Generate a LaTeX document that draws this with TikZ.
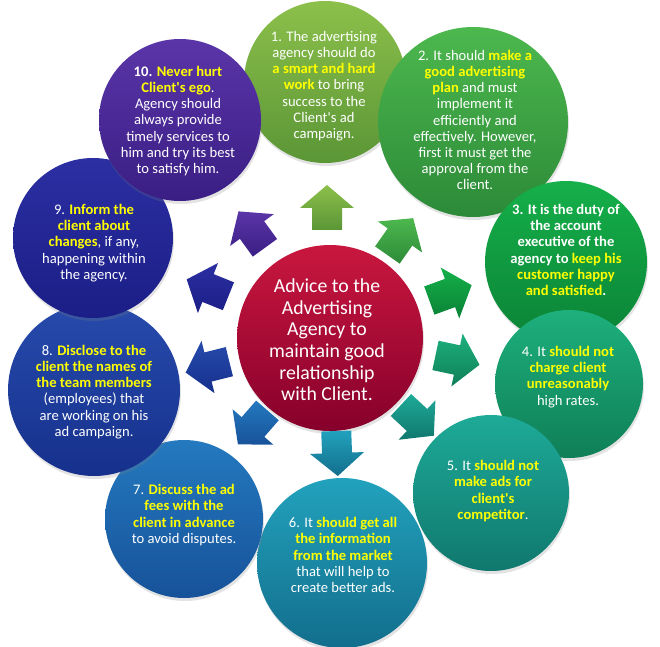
\documentclass[tikz,border=0pt]{standalone}
\usepackage{fontspec}
\setmainfont{Carlito}
\usetikzlibrary{shadows}
\definecolor{hly}{HTML}{FFFF00}
\definecolor{c0t}{HTML}{C9173F}\definecolor{c0b}{HTML}{86002B}
\definecolor{c1t}{HTML}{8CC04B}\definecolor{c1b}{HTML}{5B9636}
\definecolor{c2t}{HTML}{4DB84E}\definecolor{c2b}{HTML}{2C8A38}
\definecolor{c3t}{HTML}{15B04A}\definecolor{c3b}{HTML}{0B8236}
\definecolor{c4t}{HTML}{1DB07C}\definecolor{c4b}{HTML}{0F7F58}
\definecolor{c5t}{HTML}{1EAA98}\definecolor{c5b}{HTML}{10786E}
\definecolor{c6t}{HTML}{22A2BD}\definecolor{c6b}{HTML}{126E8C}
\definecolor{c7t}{HTML}{2479BF}\definecolor{c7b}{HTML}{17529A}
\definecolor{c8t}{HTML}{274BAC}\definecolor{c8b}{HTML}{16308C}
\definecolor{c9t}{HTML}{2B2FA2}\definecolor{c9b}{HTML}{1B1E86}
\definecolor{c10t}{HTML}{5A35A8}\definecolor{c10b}{HTML}{3A1E84}
\newcommand\hl[1]{\textbf{\color{hly}#1}}
\newcommand\blockarrow[4]{\path[top color=#3, bottom color=#4, shift={(#1)}, rotate=#2]
  (-22,-15) -- (0,-15) -- (0,-27) -- (23,0) -- (0,27) -- (0,15) -- (-22,15) -- cycle;}
\begin{document}
\begin{tikzpicture}[x=1pt,y=1pt,
  bub/.style n args={3}{circle, inner sep=0pt, minimum size=#1, top color=#2, bottom color=#3,
    draw=none, drop shadow={opacity=0.22, shadow xshift=1pt, shadow yshift=-3pt}},
  txt/.style={text=white, align=center, inner sep=0pt, font=\fontsize{14.6}{16.2}\selectfont},
  ctxt/.style={text=white, align=center, inner sep=0pt, font=\fontsize{19.8}{21.6}\selectfont}]
\useasboundingbox (0,0) rectangle (660,646);
% outer circles
\node[bub={162}{c1t}{c1b}] (c1) at (325,564) {};
\node[bub={190}{c2t}{c2b}] (c2) at (473,524) {};
\node[bub={162}{c3t}{c3b}] (c3) at (566,384) {};
\node[bub={148}{c4t}{c4b}] (c4) at (569,262) {};
\node[bub={156}{c5t}{c5b}] (c5) at (491,153) {};
\node[bub={170}{c6t}{c6b}] (c6) at (342,83) {};
\node[bub={158}{c7t}{c7b}] (c7) at (184,127) {};
\node[bub={172}{c8t}{c8b}] (c8) at (94,256) {};
\node[bub={160}{c9t}{c9b}] (c9) at (93,408) {};
\node[bub={162}{c10t}{c10b}] (c10) at (180,526) {};
% centre
\node[bub={186}{c0t}{c0b}] (c0) at (330,308) {};
% arrows
\blockarrow{327,438}{90}{c1t}{c1b}
\blockarrow{400,409}{55}{c2t}{c2b}
\blockarrow{450,353}{20}{c3t}{c3b}
\blockarrow{457,286}{-12}{c4t}{c4b}
\blockarrow{417,226}{-43}{c5t}{c5b}
\blockarrow{337,193}{-88}{c6t}{c6b}
\blockarrow{253,219}{-131}{c7t}{c7b}
\blockarrow{208,279}{-166}{c8t}{c8b}
\blockarrow{208,358}{158}{c9t}{c9b}
\blockarrow{252,416}{126}{c10t}{c10b}
% texts
\node[ctxt] (t0) at (327,306) {Advice to the\\Advertising\\Agency to\\maintain good\\relationship\\with Client.};
\node[txt] (t1) at (324,560) {1. The advertising\\agency should do\\\hl{a smart and hard}\\\hl{work} to bring\\success to the\\Client\textquotesingle s ad\\campaign.};
\node[txt] (t2) at (475,526) {2. It should \hl{make a}\\\hl{good advertising}\\\hl{plan} and must\\implement it\\efficiently and\\effectively. However,\\first it must get the\\approval from the\\client.};
\node[txt, font=\fontsize{14.6}{16.2}\selectfont\bfseries] (t3) at (566,396) {3. It is the duty of\\the account\\executive of the\\agency to \hl{keep his}\\\hl{customer happy}\\\hl{and satisfied}.};
\node[txt] (t4) at (568,269) {4. It \hl{should not}\\\hl{charge client}\\\hl{unreasonably}\\high rates.};
\node[txt] (t5) at (493,155) {5. It \hl{should not}\\\hl{make ads for}\\\hl{client\textquotesingle s}\\\hl{competitor}.};
\node[txt] (t6) at (343,91) {6. It \hl{should get all}\\\hl{the information}\\\hl{from the market}\\that will help to\\create better ads.};
\node[txt] (t7) at (184,131) {7. \hl{Discuss the ad}\\\hl{fees with the}\\\hl{client in advance}\\to avoid disputes.};
\node[txt] (t8) at (94,254) {8. \hl{Disclose to the}\\\hl{client the names of}\\\hl{the team members}\\(employees) that\\are working on his\\ad campaign.};
\node[txt] (t9) at (94,403) {9. \hl{Inform the}\\\hl{client about}\\\hl{changes}, if any,\\happening within\\the agency.};
\node[txt] (t10) at (178,525) {\textbf{10.} \hl{Never hurt}\\\hl{Client\textquotesingle s ego}.\\Agency should\\always provide\\timely services to\\him and try its best\\to satisfy him.};
\end{tikzpicture}
\end{document}
